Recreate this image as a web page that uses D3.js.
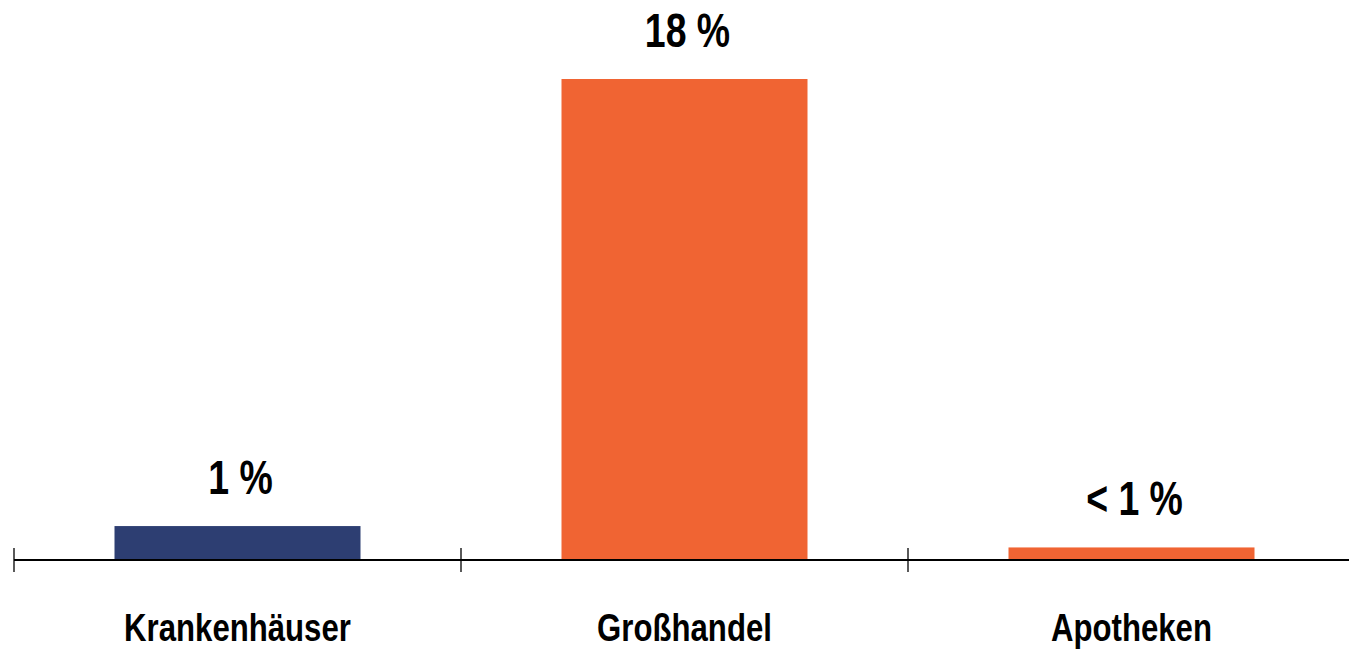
<!DOCTYPE html>
<html><head><meta charset="utf-8">
<script src="https://cdn.jsdelivr.net/npm/d3@7"></script>
<style>
html,body{margin:0;padding:0;background:#fff;}
text{font-family:"Liberation Sans",Arial,sans-serif;font-weight:bold;fill:#000;}
</style></head><body>
<svg id="c" width="1349" height="651"></svg>
<script>
const categories = ["Krankenhäuser", "Großhandel", "Apotheken"];
const values = [1.27, 18, 0.47];
const valueLabels = ["1 %", "18 %", "< 1 %"];
const colors = ["#2D3E72", "#F06433", "#F06433"];

const svg = d3.select("#c");
const baseY = 560, topY = 79;
const x = d3.scaleBand().domain(categories).range([14, 1355]).padding(0);
const y = d3.scaleLinear().domain([0, 18]).range([baseY, topY]);
const barW = 246;

svg.selectAll("rect.bar").data(categories).enter().append("rect")
  .attr("x", d => x(d) + (x.bandwidth() - barW) / 2)
  .attr("width", barW)
  .attr("y", (d, i) => y(values[i]))
  .attr("height", (d, i) => baseY - y(values[i]))
  .attr("fill", (d, i) => colors[i]);

svg.append("line").attr("x1", 14).attr("x2", 1349).attr("y1", baseY).attr("y2", baseY)
  .attr("stroke", "#000").attr("stroke-width", 2);
const ticks = categories.map(c => x(c));
svg.selectAll("line.tick").data(ticks).enter().append("line")
  .attr("x1", d => d).attr("x2", d => d).attr("y1", 548).attr("y2", 572)
  .attr("stroke", "#000").attr("stroke-width", 1.3);

svg.selectAll("text.val").data(categories).enter().append("text")
  .attr("transform", (d, i) => `translate(${x(d) + x.bandwidth() / 2 + 3},${y(values[i]) - 32}) scale(0.78,1)`)
  .attr("text-anchor", "middle")
  .attr("font-size", 48)
  .text((d, i) => valueLabels[i]);

svg.selectAll("text.cat").data(categories).enter().append("text")
  .attr("transform", d => `translate(${x(d) + x.bandwidth() / 2},641) scale(0.82,1)`)
  .attr("text-anchor", "middle")
  .attr("font-size", 38)
  .text(d => d);
</script>
</body></html>
